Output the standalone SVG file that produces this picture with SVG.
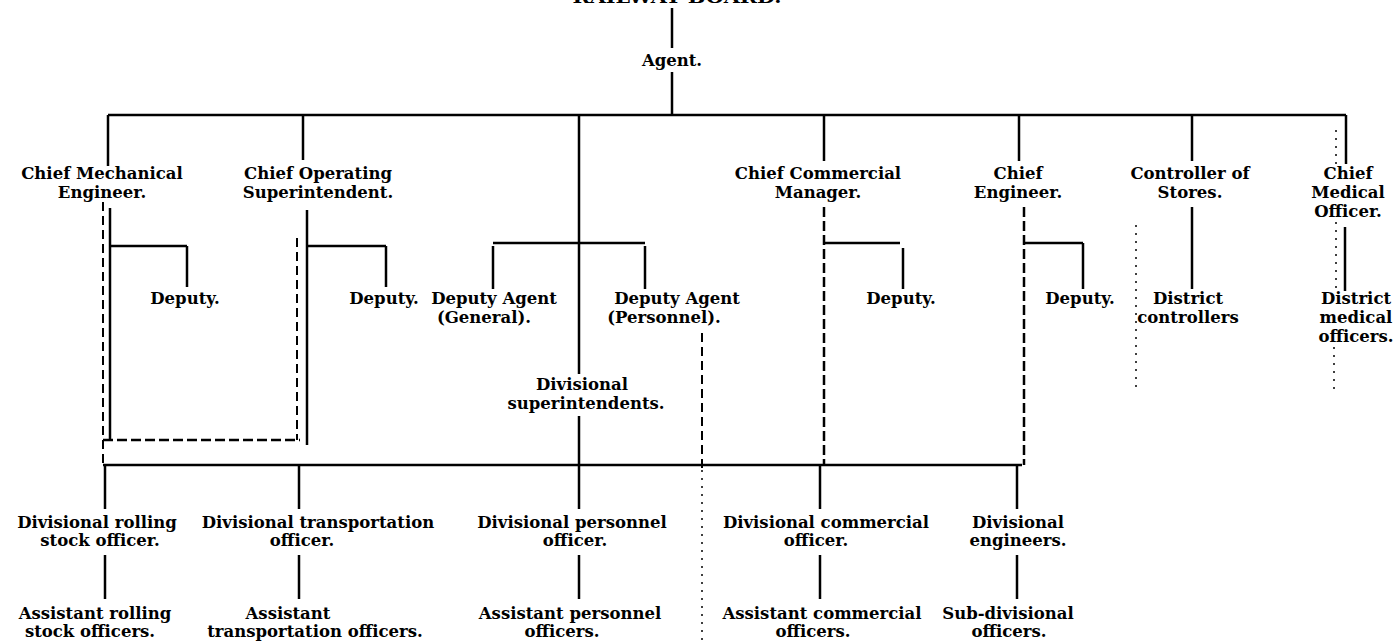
<svg xmlns="http://www.w3.org/2000/svg" width="1396" height="643" viewBox="0 0 1396 643">
<style>
  text { font-family: "DejaVu Serif", "Liberation Serif", serif; font-weight: bold; font-size: 16.5px; fill: #000; text-anchor: middle; }
  .ln { stroke: #000; stroke-width: 2.5; fill: none; stroke-linecap: butt; }
  .dash { stroke: #000; stroke-width: 2.5; fill: none; stroke-dasharray: 10 4; }
  .dash2 { stroke: #000; stroke-width: 2; fill: none; stroke-dasharray: 9 5; }
  .dot { stroke: #000; stroke-width: 1.5; fill: none; stroke-dasharray: 2 6; }
</style>
<rect width="1396" height="643" fill="#fff"/>

<g id="connectors">
  <line class="ln" x1="672" y1="8" x2="672" y2="48"/>
  <line class="ln" x1="672" y1="72" x2="672" y2="115"/>
  <line class="ln" x1="108" y1="115" x2="1346" y2="115"/>
  <line class="ln" x1="108" y1="115" x2="108" y2="166"/>
  <line class="ln" x1="303" y1="115" x2="303" y2="160"/>
  <line class="ln" x1="579" y1="115" x2="579" y2="374"/>
  <line class="ln" x1="824" y1="115" x2="824" y2="161"/>
  <line class="ln" x1="1019" y1="115" x2="1019" y2="161"/>
  <line class="ln" x1="1192" y1="115" x2="1192" y2="161"/>
  <line class="ln" x1="1346" y1="115" x2="1346" y2="164"/>
  <line class="dot" x1="1336" y1="130" x2="1336" y2="164"/>

  <line class="ln" x1="110" y1="208" x2="110" y2="440"/>
  <line class="dash2" x1="103" y1="202" x2="103" y2="465"/>
  <line class="ln" x1="110" y1="246" x2="187" y2="246"/>
  <line class="ln" x1="187" y1="246" x2="187" y2="287"/>
  <line class="dash" x1="103" y1="440" x2="300" y2="440"/>

  <line class="ln" x1="307" y1="210" x2="307" y2="445"/>
  <line class="dash2" x1="297" y1="238" x2="297" y2="440"/>
  <line class="ln" x1="307" y1="246" x2="386" y2="246"/>
  <line class="ln" x1="386" y1="246" x2="386" y2="287"/>

  <line class="ln" x1="493" y1="243" x2="645" y2="243"/>
  <line class="ln" x1="493" y1="246" x2="493" y2="289"/>
  <line class="ln" x1="645" y1="246" x2="645" y2="289"/>
  <line class="ln" x1="579" y1="416" x2="579" y2="465"/>
  <line class="dash2" x1="702" y1="333" x2="702" y2="468"/>
  <line class="dot" x1="702" y1="470" x2="702" y2="643"/>

  <line class="dash" x1="824" y1="207" x2="824" y2="465"/>
  <line class="ln" x1="824" y1="243" x2="900" y2="243"/>
  <line class="ln" x1="903" y1="248" x2="903" y2="289"/>

  <line class="dash" x1="1024" y1="207" x2="1024" y2="465"/>
  <line class="ln" x1="1024" y1="243" x2="1083" y2="243"/>
  <line class="ln" x1="1083" y1="243" x2="1083" y2="289"/>

  <line class="dot" x1="1136" y1="225" x2="1136" y2="390"/>

  <line class="ln" x1="1192" y1="207" x2="1192" y2="289"/>

  <line class="ln" x1="1345" y1="227" x2="1345" y2="291"/>
  <line class="dot" x1="1336" y1="222" x2="1336" y2="290"/>
  <line class="dot" x1="1334" y1="347" x2="1334" y2="392"/>

  <line class="ln" x1="103" y1="465" x2="1022" y2="465"/>
  <line class="ln" x1="105" y1="465" x2="105" y2="509"/>
  <line class="ln" x1="299" y1="465" x2="299" y2="509"/>
  <line class="ln" x1="579" y1="465" x2="579" y2="509"/>
  <line class="ln" x1="820" y1="465" x2="820" y2="509"/>
  <line class="ln" x1="1017" y1="465" x2="1017" y2="509"/>

  <line class="ln" x1="105" y1="555" x2="105" y2="599"/>
  <line class="ln" x1="299" y1="555" x2="299" y2="599"/>
  <line class="ln" x1="579" y1="555" x2="579" y2="599"/>
  <line class="ln" x1="820" y1="555" x2="820" y2="599"/>
  <line class="ln" x1="1017" y1="555" x2="1017" y2="599"/>
</g>

<g id="board"><text x="677" y="3" textLength="209" lengthAdjust="spacingAndGlyphs">RAILWAY BOARD.</text></g>
<g id="agent"><text x="672" y="66">Agent.</text></g>

<g id="chief-mechanical"><text x="102" y="179">Chief Mechanical</text><text x="102" y="198">Engineer.</text></g>
<g id="chief-operating"><text x="318" y="179">Chief Operating</text><text x="318" y="198">Superintendent.</text></g>
<g id="chief-commercial"><text x="818" y="179">Chief Commercial</text><text x="818" y="198">Manager.</text></g>
<g id="chief-engineer"><text x="1018" y="179">Chief</text><text x="1018" y="198">Engineer.</text></g>
<g id="controller-stores"><text x="1190" y="179">Controller of</text><text x="1190" y="198">Stores.</text></g>
<g id="chief-medical"><text x="1348" y="179">Chief</text><text x="1348" y="198">Medical</text><text x="1348" y="217">Officer.</text></g>

<g id="deputy-mech"><text x="185" y="304">Deputy.</text></g>
<g id="deputy-op"><text x="384" y="304">Deputy.</text></g>
<g id="deputy-agent-general"><text x="494" y="304">Deputy Agent</text><text x="484" y="323">(General).</text></g>
<g id="deputy-agent-personnel"><text x="677" y="304">Deputy Agent</text><text x="664" y="323">(Personnel).</text></g>
<g id="deputy-comm"><text x="901" y="304">Deputy.</text></g>
<g id="deputy-eng"><text x="1080" y="304">Deputy.</text></g>
<g id="district-controllers"><text x="1188" y="304">District</text><text x="1188" y="323">controllers</text></g>
<g id="district-medical"><text x="1356" y="304">District</text><text x="1356" y="323">medical</text><text x="1356" y="342">officers.</text></g>

<g id="divisional-superintendents"><text x="582" y="390">Divisional</text><text x="586" y="409">superintendents.</text></g>

<g id="div-rolling"><text x="97" y="528">Divisional rolling</text><text x="100" y="546">stock officer.</text></g>
<g id="div-transport"><text x="318" y="528">Divisional transportation</text><text x="302" y="546">officer.</text></g>
<g id="div-personnel"><text x="572" y="528">Divisional personnel</text><text x="575" y="546">officer.</text></g>
<g id="div-commercial"><text x="826" y="528">Divisional commercial</text><text x="816" y="546">officer.</text></g>
<g id="div-engineers"><text x="1018" y="528">Divisional</text><text x="1018" y="546">engineers.</text></g>

<g id="asst-rolling"><text x="95" y="619">Assistant rolling</text><text x="90" y="637">stock officers.</text></g>
<g id="asst-transport"><text x="288" y="619">Assistant</text><text x="315" y="637">transportation officers.</text></g>
<g id="asst-personnel"><text x="570" y="619">Assistant personnel</text><text x="562" y="637">officers.</text></g>
<g id="asst-commercial"><text x="822" y="619">Assistant commercial</text><text x="813" y="637">officers.</text></g>
<g id="sub-divisional"><text x="1008" y="619">Sub-divisional</text><text x="1009" y="637">officers.</text></g>
</svg>
